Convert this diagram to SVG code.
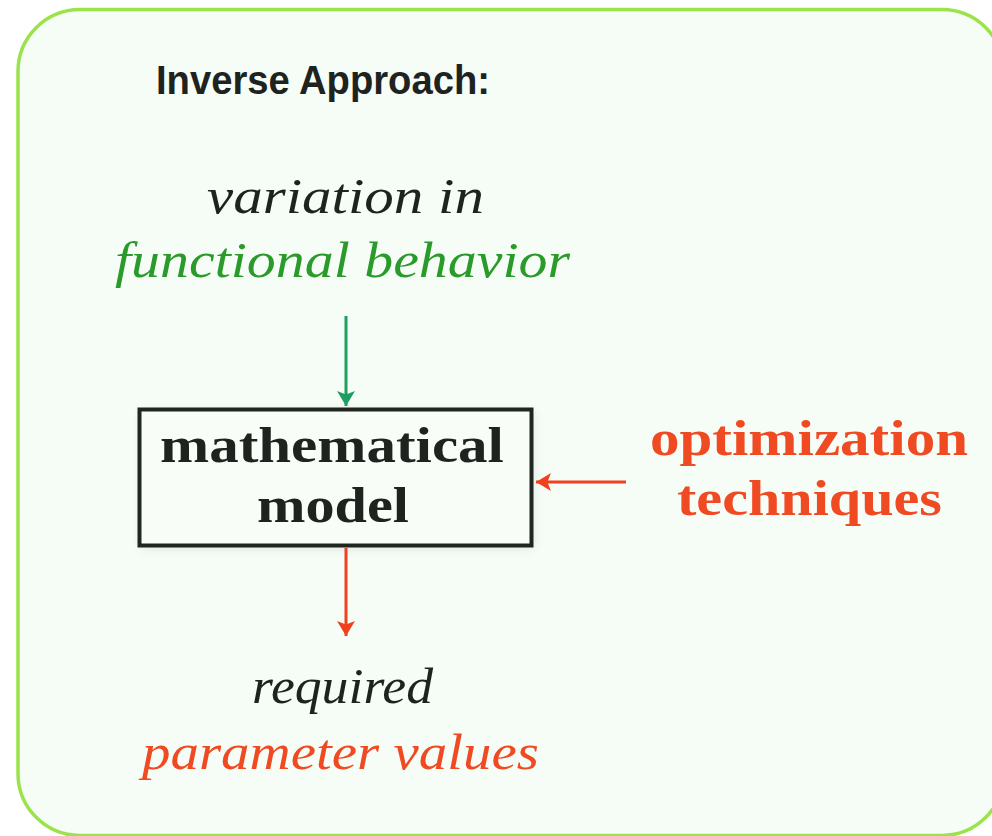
<svg xmlns="http://www.w3.org/2000/svg" width="992" height="836" viewBox="0 0 992 836">
  <defs>
    <style>
      .title { font-family: "Liberation Sans", Arial, sans-serif; font-weight: bold; font-size: 40px; fill: #1e231f; }
      .it { font-family: "Liberation Serif", "Times New Roman", serif; font-style: italic; font-size: 50px; }
      .bd { font-family: "Liberation Serif", "Times New Roman", serif; font-weight: bold; font-size: 50px; }
      .dark { fill: #1e231f; }
      .green { fill: #2a9a2a; }
      .red { fill: #f04a22; }
      .edge { fill: none; stroke-width: 3; }
    </style>
    <marker id="headGreen" markerWidth="6" markerHeight="6" refX="5" refY="3" orient="auto" markerUnits="strokeWidth">
      <path d="M0,0 L5,3 L0,6 L1.2,3 Z" fill="#1e9e60"/>
    </marker>
    <marker id="headRed" markerWidth="6" markerHeight="6" refX="5" refY="3" orient="auto" markerUnits="strokeWidth">
      <path d="M0,0 L5,3 L0,6 L1.2,3 Z" fill="#f0401f"/>
    </marker>
    <filter id="soft" x="-20%" y="-30%" width="140%" height="160%">
      <feGaussianBlur stdDeviation="6"/>
    </filter>
  </defs>

  <rect width="992" height="836" fill="#ffffff"/>

  <!-- panel -->
  <g id="panel">
    <rect x="18" y="9.5" width="986" height="826" rx="62" ry="62" fill="#f6fdf6" stroke="#9ae34a" stroke-width="3.5"/>
    <text class="title" x="156" y="94" textLength="334" lengthAdjust="spacingAndGlyphs">Inverse Approach:</text>
  </g>

  <!-- input label -->
  <g id="input">
    <text class="it dark" x="207" y="213" textLength="277" lengthAdjust="spacingAndGlyphs">variation in</text>
    <text class="it green" x="115" y="277" textLength="455" lengthAdjust="spacingAndGlyphs">functional behavior</text>
  </g>

  <!-- model box -->
  <g id="model">
    <rect x="141" y="412" width="392" height="136" fill="#000" opacity="0.10" filter="url(#soft)"/>
    <rect x="139.5" y="409.5" width="392" height="136" fill="#f8fdf8" stroke="#1f2620" stroke-width="4"/>
    <text class="bd dark" x="160" y="462" textLength="344" lengthAdjust="spacingAndGlyphs">mathematical</text>
    <text class="bd dark" x="257" y="522" textLength="152" lengthAdjust="spacingAndGlyphs">model</text>
  </g>

  <!-- optimization label -->
  <g id="optimization">
    <text class="bd red" x="650" y="455" textLength="318" lengthAdjust="spacingAndGlyphs">optimization</text>
    <text class="bd red" x="677" y="515" textLength="265" lengthAdjust="spacingAndGlyphs">techniques</text>
  </g>

  <!-- output label -->
  <g id="output">
    <text class="it dark" x="252" y="703" textLength="181" lengthAdjust="spacingAndGlyphs">required</text>
    <text class="it red" x="142" y="769" textLength="397" lengthAdjust="spacingAndGlyphs">parameter values</text>
  </g>

  <!-- connectors -->
  <g id="connectors">
    <line class="edge" x1="346" y1="316" x2="346" y2="406" stroke="#1e9e60" marker-end="url(#headGreen)"/>
    <line class="edge" x1="346" y1="548" x2="346" y2="636" stroke="#f0401f" marker-end="url(#headRed)"/>
    <line class="edge" x1="626" y1="482" x2="536" y2="482" stroke="#f0401f" marker-end="url(#headRed)"/>
  </g>
</svg>
